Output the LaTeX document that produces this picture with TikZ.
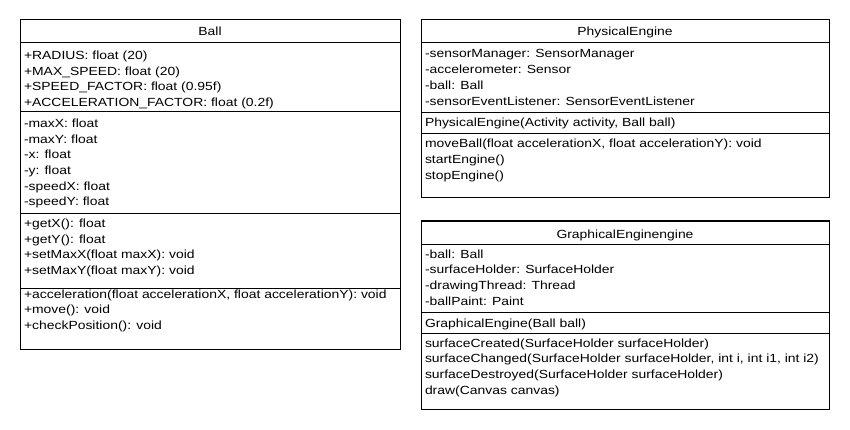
\documentclass[tikz,border=0pt]{standalone}
\usepackage{fontspec}
\setmainfont{Liberation Sans}[FakeStretch=1.18]
\begin{document}
\begin{tikzpicture}[x=1pt,y=-1pt,line width=1pt,
  member/.style={anchor=base west,inner sep=0pt,font=\fontsize{11.8}{14}\selectfont},
  classname/.style={anchor=base,inner sep=0pt,font=\fontsize{11.8}{14}\selectfont}]

\useasboundingbox (0,0) rectangle (850,430);

% Ball
\draw (20,20) rectangle (400,349);
\draw (20,43) -- (400,43);
\draw (20,112) -- (400,112);
\draw (20,214) -- (400,214);
\draw (20,288) -- (400,288);

\node [classname] (b0) at (210,36) {Ball};

\node [member] (b1) at (23.5,59.5) {+RADIUS: float (20)};
\node [member] (b2) at (23.5,75.2) {+MAX\_SPEED: float (20)};
\node [member] (b3) at (23.5,90.9) {+SPEED\_FACTOR: float (0.95f)};
\node [member] (b4) at (23.5,106.6) {+ACCELERATION\_FACTOR: float (0.2f)};

\node [member] (b5) at (23.5,127.5) {-maxX: float};
\node [member] (b6) at (23.5,143.2) {-maxY: float};
\node [member] (b7) at (23.5,158.9) {-x: float};
\node [member] (b8) at (23.5,174.6) {-y: float};
\node [member] (b9) at (23.5,190.3) {-speedX: float};
\node [member] (b10) at (23.5,206) {-speedY: float};

\node [member] (b11) at (23.5,227.5) {+getX(): float};
\node [member] (b12) at (23.5,243.2) {+getY(): float};
\node [member] (b13) at (23.5,258.9) {+setMaxX(float maxX): void};
\node [member] (b14) at (23.5,274.6) {+setMaxY(float maxY): void};

\node [member] (b15) at (23.5,298) {+acceleration(float accelerationX, float accelerationY): void};
\node [member] (b16) at (23.5,313.7) {+move(): void};
\node [member] (b17) at (23.5,329.4) {+checkPosition(): void};

% PhysicalEngine
\draw (421,20) rectangle (829,198);
\draw (421,43) -- (829,43);
\draw (421,113) -- (829,113);
\draw (421,134) -- (829,134);

\node [classname] (p0) at (625,36) {PhysicalEngine};

\node [member] (p1) at (424.5,58) {-sensorManager: SensorManager};
\node [member] (p2) at (424.5,73.7) {-accelerometer: Sensor};
\node [member] (p3) at (424.5,89.4) {-ball: Ball};
\node [member] (p4) at (424.5,105.1) {-sensorEventListener: SensorEventListener};

\node [member] (p5) at (424.5,127) {PhysicalEngine(Activity activity, Ball ball)};

\node [member] (p6) at (424.5,148) {moveBall(float accelerationX, float accelerationY): void};
\node [member] (p7) at (424.5,163.7) {startEngine()};
\node [member] (p8) at (424.5,179.4) {stopEngine()};

% GraphicalEngine
\draw (421,221) rectangle (829,409);
\draw (421,244) -- (829,244);
\draw (421,312) -- (829,312);
\draw (421,333) -- (829,333);

\node [classname] (g0) at (625,238) {GraphicalEnginengine};

\node [member] (g1) at (424.5,258) {-ball: Ball};
\node [member] (g2) at (424.5,273.7) {-surfaceHolder: SurfaceHolder};
\node [member] (g3) at (424.5,289.4) {-drawingThread: Thread};
\node [member] (g4) at (424.5,305.1) {-ballPaint: Paint};

\node [member] (g5) at (424.5,327) {GraphicalEngine(Ball ball)};

\node [member] (g6) at (424.5,347) {surfaceCreated(SurfaceHolder surfaceHolder)};
\node [member] (g7) at (424.5,362.7) {surfaceChanged(SurfaceHolder surfaceHolder, int i, int i1, int i2)};
\node [member] (g8) at (424.5,378.4) {surfaceDestroyed(SurfaceHolder surfaceHolder)};
\node [member] (g9) at (424.5,394.1) {draw(Canvas canvas)};

\end{tikzpicture}
\end{document}
